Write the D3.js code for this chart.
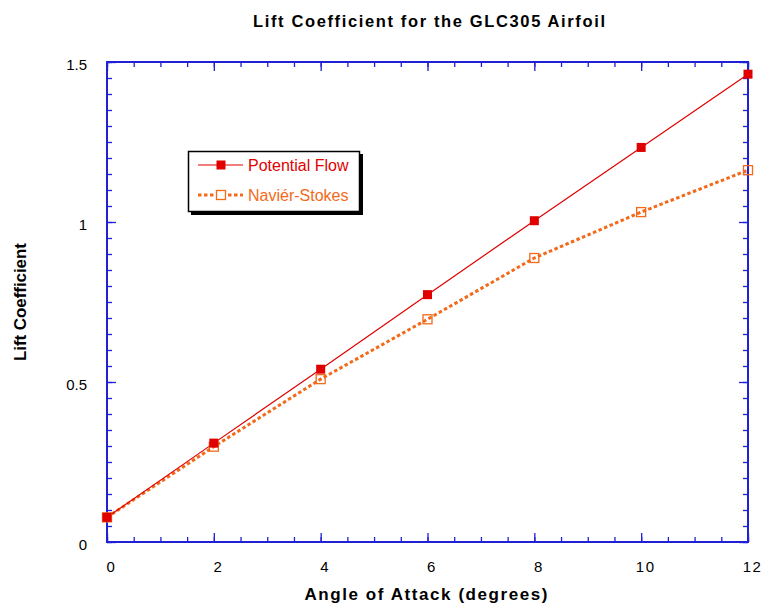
<!DOCTYPE html>
<html><head><meta charset="utf-8">
<script src="https://cdn.jsdelivr.net/npm/d3@7"></script>
<style>body{margin:0;background:#fff}svg{display:block}text{font-family:"Liberation Sans",Arial,sans-serif}</style>
</head><body><svg id="c" width="764" height="608"></svg>
<script>
const angles = [0, 2, 4, 6, 8, 10, 12];
const potentialFlow = [0.077, 0.309, 0.540, 0.773, 1.004, 1.233, 1.462];
const navierStokes = [0.077, 0.298, 0.509, 0.696, 0.8875, 1.031, 1.162];
const xTicks = [0, 2, 4, 6, 8, 10, 12];
const yTicks = [0, 0.5, 1, 1.5];
const yTickLabels = ["0", "0.5", "1", "1.5"];
const seriesNames = ["Potential Flow", "Naviér-Stokes"];

const svg = d3.select("#c");
const L = 107, R = 748, T = 62, B = 542;
const x = d3.scaleLinear().domain([0, 12]).range([L, R]);
const y = d3.scaleLinear().domain([0, 1.5]).range([B, T]);
const axisColor = "#2020d4";
const red = "#e00000", orange = "#f26a1a";

// titles
svg.append("text").attr("x", 429).attr("y", 27).attr("text-anchor", "middle")
  .attr("font-size", 16.5).attr("font-weight", "bold").attr("textLength", 352)
  .attr("lengthAdjust", "spacing").text("Lift Coefficient for the GLC305 Airfoil");
svg.append("text").attr("x", 426).attr("y", 600).attr("text-anchor", "middle")
  .attr("font-size", 17).attr("font-weight", "bold").attr("textLength", 243)
  .attr("lengthAdjust", "spacing").text("Angle of Attack (degrees)");
svg.append("text").attr("transform", "translate(26,302) rotate(-90)").attr("text-anchor", "middle")
  .attr("font-size", 17).attr("font-weight", "bold").attr("textLength", 118)
  .attr("lengthAdjust", "spacing").text("Lift Coefficient");

function styleAxis(g) {
  g.select(".domain").remove();
  g.selectAll("line").attr("stroke", axisColor).attr("stroke-width", 1.3);
  g.selectAll("text").attr("fill", "#000").attr("font-family", "Liberation Sans, Arial, sans-serif");
}
const xMinor = d3.range(0, 12.01, 0.5);
const yMinor = d3.range(0, 1.501, 0.05);

// bottom
svg.append("g").attr("transform", `translate(0,${B})`)
  .call(d3.axisBottom(x).tickValues(xMinor).tickSize(-5).tickFormat(""))
  .call(styleAxis);
svg.append("g").attr("transform", `translate(0,${B})`)
  .call(d3.axisBottom(x).tickValues(xTicks).tickSize(-9).tickPadding(19).tickFormat(d3.format("d")))
  .call(styleAxis)
  .call(g => g.selectAll("text").attr("font-size", 15).attr("dx", 4).attr("letter-spacing", 1.5));
// top
svg.append("g").attr("transform", `translate(0,${T})`)
  .call(d3.axisTop(x).tickValues(xMinor).tickSize(-5).tickFormat("")).call(styleAxis);
svg.append("g").attr("transform", `translate(0,${T})`)
  .call(d3.axisTop(x).tickValues(xTicks).tickSize(-9).tickFormat("")).call(styleAxis);
// left
svg.append("g").attr("transform", `translate(${L},0)`)
  .call(d3.axisLeft(y).tickValues(yMinor).tickSize(-5).tickFormat("")).call(styleAxis);
svg.append("g").attr("transform", `translate(${L},0)`)
  .call(d3.axisLeft(y).tickValues(yTicks).tickSize(-9).tickPadding(20)
    .tickFormat((d, i) => yTickLabels[i]))
  .call(styleAxis)
  .call(g => g.selectAll("text").attr("font-size", 15).attr("dy", "0.49em"));
// right
svg.append("g").attr("transform", `translate(${R},0)`)
  .call(d3.axisRight(y).tickValues(yMinor).tickSize(-5).tickFormat("")).call(styleAxis);
svg.append("g").attr("transform", `translate(${R},0)`)
  .call(d3.axisRight(y).tickValues(yTicks).tickSize(-9).tickFormat("")).call(styleAxis);

// frame
svg.append("rect").attr("x", L).attr("y", T).attr("width", R - L).attr("height", B - T)
  .attr("fill", "none").attr("stroke", axisColor).attr("stroke-width", 2);

const line = d3.line().x((d, i) => x(angles[i])).y(d => y(d));
svg.append("path").datum(navierStokes).attr("d", line).attr("fill", "none")
  .attr("stroke", orange).attr("stroke-width", 3).attr("stroke-dasharray", "3.5,2.5");
svg.append("path").datum(potentialFlow).attr("d", line).attr("fill", "none")
  .attr("stroke", red).attr("stroke-width", 1.2);

const ms = 9;
svg.append("g").selectAll("rect").data(navierStokes).join("rect")
  .attr("x", (d, i) => x(angles[i]) - ms / 2).attr("y", d => y(d) - ms / 2)
  .attr("width", ms).attr("height", ms).attr("fill", "none")
  .attr("stroke", orange).attr("stroke-width", 1.3);
svg.append("g").selectAll("rect").data(potentialFlow).join("rect")
  .attr("x", (d, i) => x(angles[i]) - ms / 2).attr("y", d => y(d) - ms / 2)
  .attr("width", ms).attr("height", ms).attr("fill", red);

// legend
const lg = svg.append("g");
lg.append("rect").attr("x", 191).attr("y", 154).attr("width", 172).attr("height", 61).attr("fill", "#000");
lg.append("rect").attr("x", 188.5).attr("y", 151.5).attr("width", 171).attr("height", 60)
  .attr("fill", "#fff").attr("stroke", "#000").attr("stroke-width", 1.5);
const items = [
  { name: seriesNames[0], color: red, y: 165, dash: null, w: 1.2, fill: red },
  { name: seriesNames[1], color: orange, y: 195, dash: "3.5,2.5", w: 3, fill: "none" }
];
items.forEach(it => {
  lg.append("line").attr("x1", 198).attr("x2", 243).attr("y1", it.y).attr("y2", it.y)
    .attr("stroke", it.color).attr("stroke-width", it.w).attr("stroke-dasharray", it.dash);
  lg.append("rect").attr("x", 221 - ms / 2).attr("y", it.y - ms / 2).attr("width", ms).attr("height", ms)
    .attr("fill", it.fill === "none" ? "#fff" : it.fill).attr("stroke", it.fill === "none" ? it.color : "none")
    .attr("stroke-width", 1.3);
  lg.append("text").attr("x", 248).attr("y", it.y + 5.5).attr("font-size", 16)
    .attr("fill", it.color).text(it.name);
});
</script></body></html>
